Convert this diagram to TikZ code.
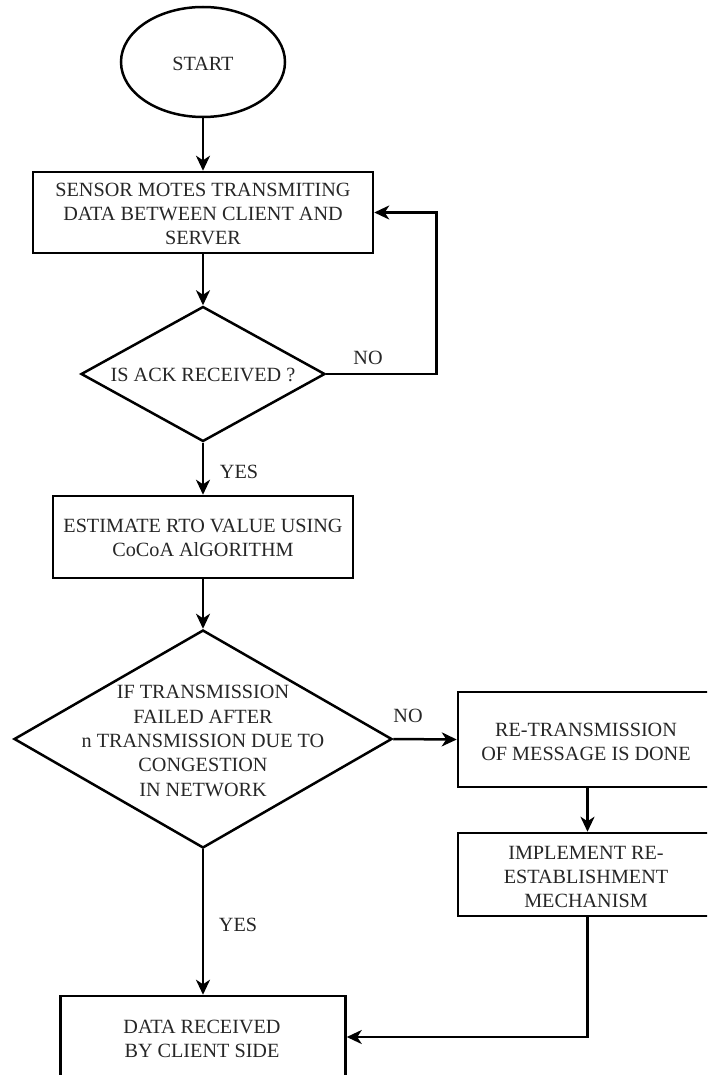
\documentclass[tikz,border=0pt]{standalone}
\usepackage{fontspec}
\setmainfont{Liberation Serif}
\usetikzlibrary{shapes.geometric,arrows.meta}
\begin{document}
\begin{tikzpicture}[x=1pt,y=-1pt,
  every node/.style={font=\fontsize{20.2}{24.3}\selectfont, text=black!85},
  box/.style={draw=black, line width=2.5pt, rectangle, inner sep=0pt, align=center},
  oval/.style={draw=black, line width=2.5pt, ellipse, inner sep=0pt, minimum width=164pt, minimum height=110pt},
  decision/.style={draw=black, line width=2.5pt, diamond, inner sep=0pt},
  txt/.style={align=center, inner sep=0pt},
  flow/.style={line width=2.5pt, draw=black, -{Stealth[length=15pt,width=14pt,inset=4.5pt]}}
]
\useasboundingbox (0,0) rectangle (707,1075);
\clip (0,0) rectangle (707,1075);

% terminal
\node[oval] (start) at (203,62) {};
\node[txt] (startt) at (203,64) {START};

% main column
\node[box, minimum width=340pt, minimum height=81pt] (b1) at (203,212.5) {};
\node[txt] (b1t) at (203,214) {SENSOR MOTES TRANSMITING\\DATA BETWEEN CLIENT AND\\SERVER};

\node[decision, minimum width=244pt, minimum height=135pt] (d1) at (203,374) {};
\node[txt] (d1t) at (203,375) {IS ACK RECEIVED ?};

\node[box, minimum width=300pt, minimum height=82pt] (b2) at (203,537) {};
\node[txt] (b2t) at (203,538) {ESTIMATE RTO VALUE USING\\CoCoA AlGORITHM};

\node[decision, minimum width=378pt, minimum height=218pt] (d2) at (203,739) {};
\node[txt] (d2t) at (203,741) {IF TRANSMISSION\\FAILED AFTER\\n TRANSMISSION DUE TO\\CONGESTION\\IN NETWORK};

% right column
\node[box, minimum width=259pt, minimum height=95pt] (b3) at (587.5,739.5) {};
\node[txt] (b3t) at (586,742) {RE-TRANSMISSION\\OF MESSAGE IS DONE};

\node[box, minimum width=259pt, minimum height=83pt] (b4) at (587.5,874.5) {};
\node[txt] (b4t) at (586,877) {IMPLEMENT RE-\\ESTABLISHMENT\\MECHANISM};

% end box
\node[box, minimum width=285pt, minimum height=82pt] (b5) at (203,1037) {};
\node[txt] (b5t) at (202,1039) {DATA RECEIVED\\BY CLIENT SIDE};

% connectors
\draw[flow] (start.south) -- (b1.north);
\draw[flow] (b1.south) -- (d1.north);
\draw[flow] (d1.east) -- ++(110,0) |- (b1.east);
\node[txt] (no1) at (368,358) {NO};
\draw[flow] (d1.south) -- (b2.north);
\node[txt] (yes1) at (239,472) {YES};
\draw[flow] (b2.south) -- (d2.north);
\draw[flow] (d2.east) -- (b3.west);
\node[txt] (no2) at (408,716) {NO};
\draw[flow] (b3.south) -- (b4.north);
\draw[flow] (d2.south) -- (b5.north);
\node[txt] (yes2) at (238,925) {YES};
\draw[flow] (b4.south) |- (b5.east);
\end{tikzpicture}
\end{document}
